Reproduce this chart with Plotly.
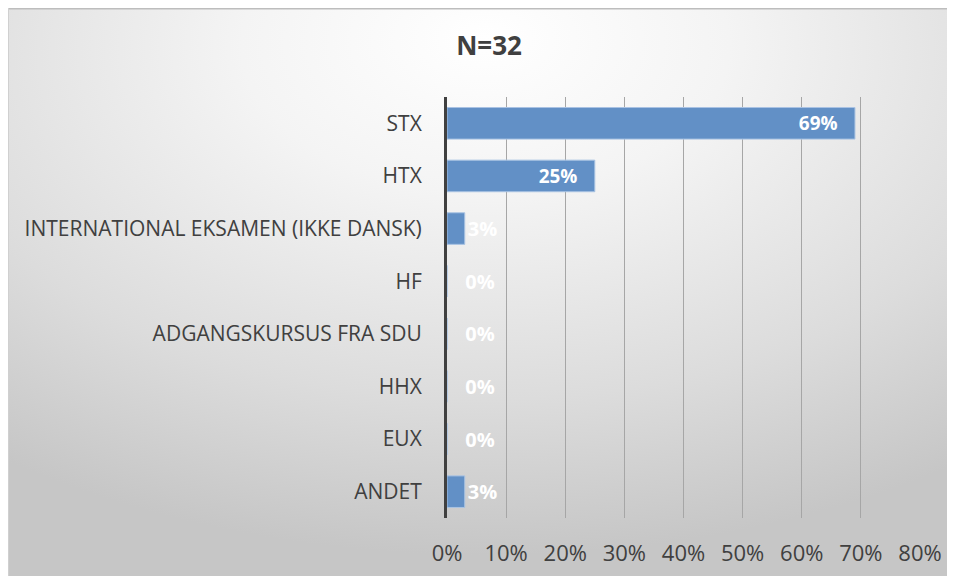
import base64
import plotly.graph_objects as go

# Data
categories = ["STX", "HTX", "INTERNATIONAL EKSAMEN (IKKE DANSK)", "HF",
              "ADGANGSKURSUS FRA SDU", "HHX", "EUX", "ANDET"]
shares = [0.69, 0.25, 0.03, 0.0, 0.0, 0.0, 0.0, 0.03]
x_ticks = [0, 0.1, 0.2, 0.3, 0.4, 0.5, 0.6, 0.7, 0.8]
title_text = "N=32"

# the page puts the figure 8px in from the top-left corner; the overflow is cut off by the window
W, H = 955, 576
L, R, T, B = 439, 43, 89, 66

# Radial gradient background like the Excel chart area
svg = f"""<svg xmlns='http://www.w3.org/2000/svg' width='{W}' height='{H}' viewBox='0 0 {W} {H}' preserveAspectRatio='none'>
<defs><radialGradient id='g' cx='50%' cy='10%' r='85%' fx='50%' fy='5%'>
<stop offset='0' stop-color='#ffffff'/><stop offset='0.3' stop-color='#f4f4f4'/>
<stop offset='0.7' stop-color='#dcdcdc'/><stop offset='1' stop-color='#c6c6c6'/></radialGradient></defs>
<rect x='0' y='0' width='{W}' height='{H}' fill='url(#g)'/>
<line x1='0' y1='0.5' x2='{W}' y2='0.5' stroke='#bdbdbd' stroke-width='2'/>
<line x1='0.5' y1='0' x2='0.5' y2='{H}' stroke='#d0d0d0' stroke-width='1'/>
</svg>"""
bg_src = "data:image/svg+xml;base64," + base64.b64encode(svg.encode()).decode()

# Excel-like label placement: inside end for long bars, just right of the axis for short ones
labels = []
positions = []
for v in shares:
    txt = f"{v*100:.0f}%"
    if v > 0.1:
        labels.append(txt + "\u2002\u00a0")
        positions.append("inside")
    else:
        labels.append(("\u2002\u00a0" if v == 0 else "") + txt)
        positions.append("outside")

fig = go.Figure()
fig.add_trace(go.Bar(
    y=categories,
    x=shares,
    orientation="h",
    width=0.6,
    marker=dict(color="#6290c6", line=dict(color="#a9c3e3", width=1)),
    text=labels,
    textposition=positions,
    insidetextanchor="end",
    textangle=0,
    cliponaxis=False,
    textfont=dict(family="Open Sans", size=20, color="white", weight="bold"),
    hoverinfo="x+y",
))

fig.update_layout(
    width=W, height=H,
    margin=dict(l=L, r=R, t=T, b=B),
    paper_bgcolor="#e6e6e6",
    plot_bgcolor="rgba(0,0,0,0)",
    font=dict(family="Open Sans", color="#404040", size=21),
    showlegend=False,
    title=dict(text=f"<b>{title_text}</b>", x=481 / W, xanchor="center",
               y=1 - 38 / H, yanchor="middle",
               font=dict(family="Open Sans", size=26, color="#404040")),
    images=[dict(source=bg_src, xref="paper", yref="paper",
                 x=-L / (W - L - R), y=(H - B) / (H - T - B),
                 sizex=W / (W - L - R), sizey=H / (H - T - B),
                 xanchor="left", yanchor="top", sizing="stretch", layer="below")],
)
fig.update_xaxes(
    range=[0, 0.8], tickvals=x_ticks, tickformat=".0%",
    showgrid=True, gridcolor="#a6a6a6", gridwidth=1.3,
    zeroline=False, showline=False, ticks="", automargin=False,
    ticklabelstandoff=20, tickfont=dict(size=22, color="#404040"),
    fixedrange=True,
)
fig.update_yaxes(
    autorange="reversed", showgrid=False, zeroline=False,
    showline=True, linecolor="#404040", linewidth=3, automargin=False,
    ticks="", ticklabelstandoff=18, tickfont=dict(size=21, color="#404040"),
    fixedrange=True,
)

fig.write_html("out.html")
